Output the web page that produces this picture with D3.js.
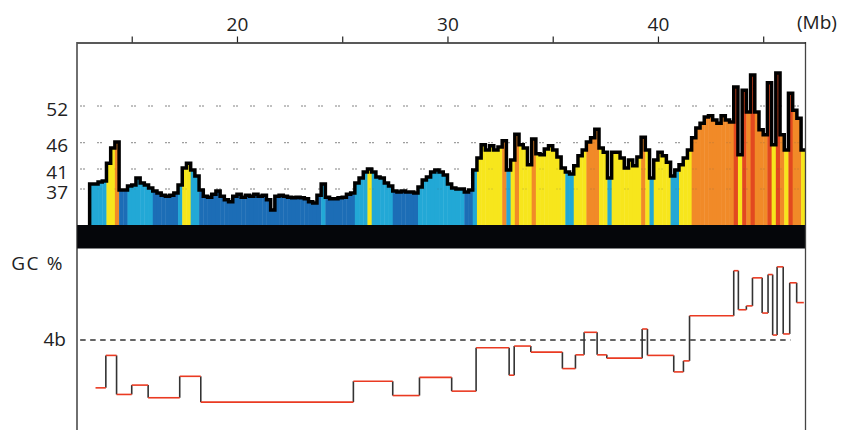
<!DOCTYPE html>
<html>
<head>
<meta charset="utf-8">
<script src="https://cdn.jsdelivr.net/npm/d3@7"></script>
<style>
  body { margin: 0; background: #fff; }
  text { font-family: "Open Sans", "DejaVu Sans", sans-serif; fill: #222; }
</style>
</head>
<body>
<svg id="chart" width="846" height="430"></svg>
<script>
// position axis (Mb)
const mbTicks = [15, 20, 25, 30, 35, 40, 45];
const mbLabels = [20, 30, 40];

// GC% profile, 0.2 Mb windows starting at 13.0 Mb
const winStart = 13.0;
const winSize = 0.2;
const gcProfile = [
  38.0, 38.0, 38.4, 38.6, 42.1, 45.0, 46.1, 36.8, 36.8, 37.6,
  37.8, 39.2, 38.2, 37.8, 37.2, 36.6, 36.2, 35.8, 35.6, 35.8,
  36.2, 37.8, 41.2, 42.1, 40.8, 39.6, 36.8, 35.6, 35.4, 36.0,
  36.6, 35.6, 34.9, 34.5, 35.6, 36.0, 35.4, 35.8, 35.6, 36.0,
  35.6, 35.8, 34.9, 32.9, 35.6, 35.8, 35.6, 35.4, 35.3, 35.4,
  35.3, 35.1, 34.5, 34.3, 35.8, 38.0, 35.4, 35.1, 35.1, 35.3,
  35.4, 36.0, 36.2, 38.2, 39.2, 40.4, 41.0, 40.4, 39.4, 39.2,
  38.2, 37.6, 36.6, 36.4, 36.6, 36.4, 36.4, 36.2, 37.4, 38.8,
  39.4, 40.4, 40.8, 40.4, 39.8, 38.0, 37.2, 37.0, 37.0, 36.4,
  36.8, 40.8, 43.1, 45.6, 44.6, 45.4, 44.6, 45.2, 46.3, 40.8,
  42.7, 47.4, 45.6, 45.0, 41.8, 46.6, 43.9, 43.7, 44.8, 45.4,
  44.6, 43.3, 41.2, 40.4, 40.0, 41.6, 43.5, 44.6, 46.1, 46.8,
  48.2, 45.0, 44.2, 39.2, 44.2, 44.2, 43.1, 41.2, 42.7, 41.6,
  43.3, 46.9, 44.6, 39.2, 42.7, 44.2, 43.5, 42.3, 39.6, 40.8,
  41.8, 43.1, 44.6, 46.8, 48.4, 49.2, 50.2, 50.4, 49.7, 49.2,
  50.4, 49.7, 49.4, 55.1, 43.7, 54.6, 51.0, 57.1, 51.0, 48.1,
  47.3, 55.8, 45.6, 57.4, 47.3, 44.6, 54.1, 51.3, 50.0, 44.6
];

// isochore classes
const isoBreaks = [37, 41, 46, 52];
const isoColors = ["#1c6db6", "#22a8d6", "#f7e61c", "#f18a28", "#e2491f"];
const gridValues = [37, 41, 46, 52];

// isochore segment mean GC (lower panel)
const stepStarts = [13.28, 13.77, 14.28, 15.00, 15.78, 17.28, 18.28, 25.53, 27.40, 28.67,
  30.20, 31.36, 32.93, 33.17, 33.96, 35.46, 36.08, 36.49, 37.11, 37.57,
  39.25, 39.50, 40.75, 41.21, 41.50, 43.60, 43.82, 44.20, 44.49, 44.95,
  45.23, 45.45, 45.66, 45.95, 46.26, 46.59];
const stepEnd = 46.93;
const stepGc = [37.3, 43.2, 36.1, 37.8, 35.5, 39.4, 34.7, 38.5, 35.9, 39.2,
  36.7, 44.6, 39.6, 44.9, 43.8, 40.8, 43.3, 47.4, 43.3, 42.7,
  48.0, 43.2, 40.2, 42.2, 50.4, 58.6, 51.5, 52.2, 57.3, 50.9,
  57.9, 46.9, 59.3, 47.1, 56.4, 52.8];
const refGc = 46;

const svg = d3.select("#chart");

const x = d3.scaleLinear().domain([12.4, 47.0]).range([77, 805.3]);
// top panel is not quite linear, so piecewise
const yTop = d3.scaleLinear()
  .domain([30, 37, 41, 46, 52, 60])
  .range([225, 189, 169, 142.7, 106, 57.2]);
const yLow = d3.scaleLinear().domain([30, 60]).range([428, 263]);
const color = d3.scaleThreshold().domain(isoBreaks).range(isoColors);

// grid behind
const grid = svg.append("g");
grid.selectAll("line")
  .data(gridValues)
  .join("line")
  .attr("x1", 80).attr("x2", 800)
  .attr("y1", d => yTop(d)).attr("y2", d => yTop(d))
  .attr("stroke", "#9a9a9a")
  .attr("stroke-width", 1)
  .attr("stroke-dasharray", "2,1,2,12");

// coloured windows
const wins = gcProfile.map((v, i) => ({ x0: winStart + i * winSize, x1: winStart + (i + 1) * winSize, v: v }));

svg.append("g")
  .selectAll("rect")
  .data(wins)
  .join("rect")
  .attr("x", d => x(d.x0))
  .attr("width", d => x(d.x1) - x(d.x0) + 0.4)
  .attr("y", d => yTop(d.v))
  .attr("height", d => yTop(30) - yTop(d.v))
  .attr("fill", d => color(d.v));

// faint grid over the fill
svg.append("g")
  .selectAll("line")
  .data(gridValues)
  .join("line")
  .attr("x1", 80).attr("x2", 800)
  .attr("y1", d => yTop(d)).attr("y2", d => yTop(d))
  .attr("stroke", "#555")
  .attr("opacity", 0.18)
  .attr("stroke-dasharray", "2,1,2,12");

// black outline of the profile
const pts = [[winStart, 30]].concat(wins.map(d => [d.x0, d.v]));
pts.push([winStart + gcProfile.length * winSize, gcProfile[gcProfile.length - 1]]);
svg.append("path")
  .attr("d", d3.line().x(d => x(d[0])).y(d => yTop(d[1])).curve(d3.curveStepAfter)(pts))
  .attr("fill", "none")
  .attr("stroke", "#000")
  .attr("stroke-width", 3.5)
  .attr("stroke-linejoin", "miter");

// chromosome bar
svg.append("rect")
  .attr("x", 77).attr("y", 225)
  .attr("width", 805.5 - 77).attr("height", 23.5)
  .attr("fill", "#05060a");

// frame
svg.append("line").attr("x1", 77).attr("x2", 77).attr("y1", 42).attr("y2", 430)
  .attr("stroke", "#222").attr("stroke-width", 1.3);
svg.append("line").attr("x1", 805.5).attr("x2", 805.5).attr("y1", 42).attr("y2", 430)
  .attr("stroke", "#444").attr("stroke-width", 1.3);

// top axis
const axis = d3.axisTop(x)
  .tickValues(mbTicks)
  .tickSize(6)
  .tickSizeOuter(0)
  .tickPadding(6)
  .tickFormat(d => mbLabels.includes(d) ? d : "");
const ax = svg.append("g").attr("transform", "translate(0,42.5)").call(axis);
ax.select(".domain").attr("stroke", "#222").attr("stroke-width", 1.3);
ax.selectAll(".tick line").attr("stroke", "#222").attr("stroke-width", 1.2);
ax.selectAll(".tick text")
  .attr("font-family", "Open Sans, sans-serif")
  .attr("font-size", 19)
  .attr("fill", "#222");

svg.append("text")
  .attr("x", 797).attr("y", 29)
  .attr("font-size", 19)
  .text("(Mb)");

// GC labels, top panel
svg.append("g")
  .selectAll("text")
  .data(gridValues)
  .join("text")
  .attr("x", 68)
  .attr("y", d => yTop(d) + 2.5)
  .attr("text-anchor", "end")
  .attr("dominant-baseline", "central")
  .attr("font-size", 19)
  .text(d => d);

// lower panel
svg.append("text")
  .attr("x", 64).attr("y", 263)
  .attr("text-anchor", "end")
  .attr("dominant-baseline", "central")
  .attr("font-size", 19)
  .attr("letter-spacing", 1.6)
  .text("GC %");

svg.append("text")
  .attr("x", 66).attr("y", yLow(refGc) - 1.5)
  .attr("text-anchor", "end")
  .attr("dominant-baseline", "central")
  .attr("font-size", 19)
  .text("4b");

svg.append("line")
  .attr("x1", x(12.55)).attr("x2", x(46.3))
  .attr("y1", yLow(refGc)).attr("y2", yLow(refGc))
  .attr("stroke", "#333")
  .attr("stroke-width", 1.4)
  .attr("stroke-dasharray", "5.5,4.5");

const steps = stepStarts.map((s, i) => ({ x0: s, x1: i < stepStarts.length - 1 ? stepStarts[i + 1] : stepEnd, v: stepGc[i] }));

// vertical connectors
svg.append("g")
  .selectAll("line")
  .data(steps.slice(1))
  .join("line")
  .attr("x1", d => x(d.x0)).attr("x2", d => x(d.x0))
  .attr("y1", (d, i) => yLow(steps[i].v)).attr("y2", d => yLow(d.v))
  .attr("stroke", "#333")
  .attr("stroke-width", 1.6);

// segment levels
svg.append("g")
  .selectAll("line")
  .data(steps)
  .join("line")
  .attr("x1", d => x(d.x0)).attr("x2", d => x(d.x1))
  .attr("y1", d => yLow(d.v)).attr("y2", d => yLow(d.v))
  .attr("stroke", "#ea3a22")
  .attr("stroke-width", 1.6);
</script>
</body>
</html>
